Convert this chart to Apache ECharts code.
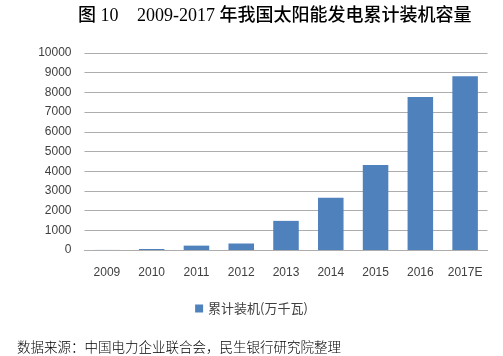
<!DOCTYPE html>
<html><head><meta charset="utf-8">
<script src="https://cdn.jsdelivr.net/npm/echarts@6/dist/echarts.min.js"></script>
<style>html,body{margin:0;padding:0;background:#fff}#c{width:503px;height:356px}</style>
</head><body><div id="c"></div>
<script>
const categories = ['2009','2010','2011','2012','2013','2014','2015','2016','2017E'];
const seriesName = '累计装机(万千瓦)';
const values = [3, 50, 222, 330, 1479, 2652, 4318, 7770, 8820];
const yTicks = {min: 0, max: 10000, interval: 1000};

const chart = echarts.init(document.getElementById('c'), null, {renderer: 'canvas'});
chart.setOption({
  animation: false,
  backgroundColor: '#fff',
  graphic: [
    {type: 'text', left: 78, top: 7, style: {text: '图 10', font: '500 18px "Liberation Serif", "Noto Sans CJK SC"', fill: '#000'}},
    {type: 'text', left: 137, top: 7, style: {text: '2009-2017 年我国太阳能发电累计装机容量', font: '500 18px "Liberation Serif", "Noto Sans CJK SC"', fill: '#000'}},
    {type: 'text', left: 17, top: 340, style: {text: '数据来源：中国电力企业联合会，民生银行研究院整理', font: '300 13.5px "Noto Sans CJK SC"', fill: '#000'}}
  ],
  grid: {left: 84.5, right: 15.5, top: 53, bottom: 106, containLabel: false},
  legend: {
    data: [seriesName], top: 297, left: 'center',
    itemWidth: 8, itemHeight: 8, itemGap: 4,
    textStyle: {color: '#404040', fontSize: 13, fontFamily: '"Noto Sans CJK SC"'},
    icon: 'rect'
  },
  xAxis: {
    type: 'category', data: categories,
    axisLine: {show: true, lineStyle: {color: '#ADADAD'}},
    axisTick: {show: false},
    axisLabel: {color: '#404040', fontSize: 12, fontFamily: '"Liberation Sans"', margin: 17, interval: 0}
  },
  yAxis: {
    type: 'value', min: yTicks.min, max: yTicks.max, interval: yTicks.interval,
    axisLine: {show: false}, axisTick: {show: false},
    splitLine: {lineStyle: {color: '#ADADAD', width: 1}},
    axisLabel: {color: '#404040', fontSize: 12, fontFamily: '"Liberation Sans"', margin: 13, formatter: v => String(v)}
  },
  series: [{
    name: seriesName, type: 'bar', data: values,
    barCategoryGap: '43%',
    itemStyle: {color: '#4F81BD'}
  }]
});
</script></body></html>
